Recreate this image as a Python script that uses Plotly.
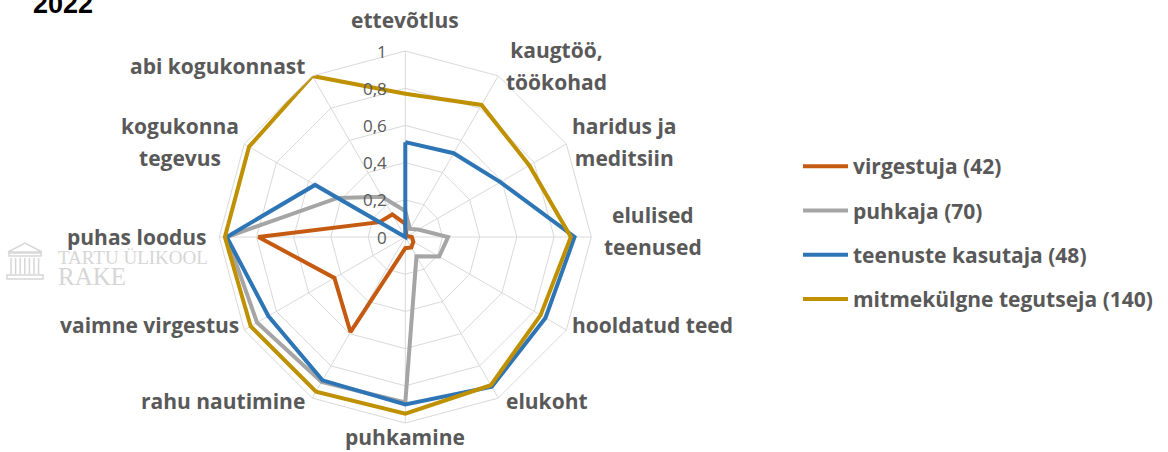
import math
import plotly.graph_objects as go

categories = ["ettevõtlus", "kaugtöö, töökohad", "haridus ja meditsiin", "elulised teenused",
              "hooldatud teed", "elukoht", "puhkamine", "rahu nautimine", "vaimne virgestus",
              "puhas loodus", "kogukonna tegevus", "abi kogukonnast"]
category_lines = [["ettevõtlus"], ["kaugtöö,", "töökohad"], ["haridus ja", "meditsiin"], ["elulised", "teenused"],
                  ["hooldatud teed"], ["elukoht"], ["puhkamine"], ["rahu nautimine"], ["vaimne virgestus"],
                  ["puhas loodus"], ["kogukonna", "tegevus"], ["abi kogukonnast"]]

series_names = ["virgestuja (42)", "puhkaja (70)", "teenuste kasutaja (48)", "mitmekülgne tegutseja (140)"]
virgestuja = [0.07, 0.01, 0.01, 0.035, 0.05, 0.065, 0.06, 0.59, 0.44, 0.79, 0.16, 0.14]
puhkaja = [0.14, 0.05, 0.08, 0.23, 0.21, 0.12, 0.89, 0.90, 0.92, 0.96, 0.42, 0.25]
teenuste_kasutaja = [0.51, 0.52, 0.59, 0.91, 0.87, 0.93, 0.90, 0.89, 0.85, 0.96, 0.56, 0.0]
mitmekulgne = [0.77, 0.82, 0.77, 0.89, 0.84, 0.92, 0.95, 0.96, 0.96, 0.97, 0.97, 1.0]

radial_ticks = [0, 0.2, 0.4, 0.6, 0.8, 1.0]
radial_ticktext = ["0", "0,2", "0,4", "0,6", "0,8", "1"]

colors = ["#C55A11", "#A5A5A5", "#2E75B6", "#BF9000"]
all_values = [virgestuja, puhkaja, teenuste_kasutaja, mitmekulgne]

W, H = 1168, 452
cx, cy, R = 405.3, 237.0, 186.0
TXT = "#595959"
grid = "#D9D9D9"
LAB_SIZE = 21
LINE_GAP = 32


def px(x):
    return x / W


def py(y):
    return 1 - y / H


fig = go.Figure()
for name, vals, col in zip(series_names, all_values, colors):
    fig.add_trace(go.Scatterpolar(
        r=vals + vals[:1],
        theta=categories + categories[:1],
        mode="lines",
        name=name,
        legendgroup=name,
        line=dict(color=col, width=4),
        hoverinfo="skip",
    ))

fig.update_layout(
    width=W, height=H,
    margin=dict(l=0, r=0, t=0, b=0),
    paper_bgcolor="white",
    plot_bgcolor="white",
    polar=dict(
        domain=dict(x=[px(cx - R), px(cx + R)], y=[py(cy + R), py(cy - R)]),
        gridshape="linear",
        bgcolor="white",
        radialaxis=dict(
            range=[0, 1],
            tickvals=radial_ticks,
            angle=90,
            showline=False,
            showticklabels=False,
            ticks="",
            gridcolor=grid, gridwidth=1,
        ),
        angularaxis=dict(
            direction="clockwise",
            rotation=90,
            categoryorder="array",
            categoryarray=categories,
            showline=True, linecolor=grid, linewidth=1,
            gridcolor=grid, gridwidth=1,
            ticks="",
            showticklabels=False,
        ),
    ),
    showlegend=True,
    legend=dict(
        x=px(798), y=py(146), xanchor="left", yanchor="top",
        font=dict(family="Open Sans", size=21, color=TXT, weight="bold"),
        tracegroupgap=14,
        itemwidth=45,
        bgcolor="rgba(0,0,0,0)",
    ),
)

# category labels placed around the outer polygon (Excel-like placement)
n = len(category_lines)
for i, lines in enumerate(category_lines):
    ang = math.radians(i * 360 / n)
    s, c = math.sin(ang), math.cos(ang)
    gap = 4 if 0.3 < abs(c) < 0.7 else 11
    ax_ = cx + (R + gap) * s
    ay_ = cy - (R + gap) * c
    if abs(s) < 0.05:
        xa = "center"
        if c > 0:
            ya = "bottom"
            ay_ -= 4
        else:
            ya = "top"
            ay_ = cy + R - 2
    else:
        xa = "left" if s > 0 else "right"
        ya = "middle"
        if c < -0.05:
            ay_ -= 7
        if len(lines) > 1 and abs(c) < 0.05:
            ay_ -= 6
    if len(lines) > 1:
        text = "<br>".join(f"<span style='font-size:{LAB_SIZE}px'>{ln}</span>" for ln in lines)
        fsize = LINE_GAP / 1.3
    else:
        text = lines[0]
        fsize = LAB_SIZE
    fig.add_annotation(text=text, xref="paper", yref="paper", x=px(ax_), y=py(ay_),
                       xanchor=xa, yanchor=ya, align="center", showarrow=False,
                       font=dict(family="Open Sans", size=fsize, color=TXT, weight="bold"))

# radial tick labels along the upward axis
for v, t in zip(radial_ticks, radial_ticktext):
    fig.add_annotation(text=t, xref="paper", yref="paper", x=px(cx - 16), y=py(cy - R * v),
                       xanchor="right", yanchor="middle", showarrow=False,
                       font=dict(family="Open Sans", size=17, color=TXT))

fig.add_annotation(text="<b>2022</b>", xref="paper", yref="paper", x=px(31), y=py(4),
                   xanchor="left", yanchor="middle", showarrow=False,
                   font=dict(family="Liberation Sans", size=27, color="black"))

# watermark
wm = "#D6D6D6"
fig.add_annotation(text="<span style='font-size:19px'>TARTU ÜLIKOOL</span><br><span style='font-size:25px'>RAKE</span>",
                   xref="paper", yref="paper", x=px(56), y=py(268),
                   xanchor="left", yanchor="middle", align="left", showarrow=False,
                   font=dict(family="Liberation Serif", size=16, color=wm))
# simple building logo
logo = dict(color=wm, width=1.5)
fig.add_shape(type="path", xref="paper", yref="paper",
              path=f"M {px(8)},{py(252)} L {px(25)},{py(243)} L {px(42)},{py(252)} Z", line=logo)
fig.add_shape(type="rect", xref="paper", yref="paper", x0=px(9), x1=px(41), y0=py(256), y1=py(253), line=logo)
for k in range(7):
    xx = 11 + k * 4.6
    fig.add_shape(type="line", xref="paper", yref="paper", x0=px(xx), x1=px(xx), y0=py(258), y1=py(274), line=logo)
fig.add_shape(type="rect", xref="paper", yref="paper", x0=px(7), x1=px(43), y0=py(279), y1=py(275), line=logo)

fig.write_html("out.html", config={"displayModeBar": False},
               post_script="document.body.style.margin='0';")
